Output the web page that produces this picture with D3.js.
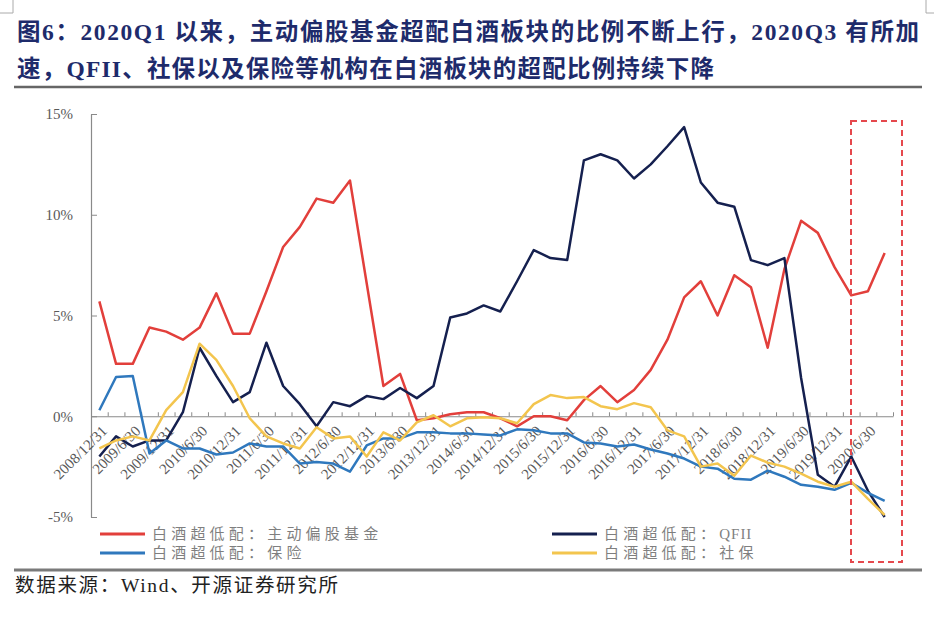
<!DOCTYPE html>
<html>
<head>
<meta charset="utf-8">
<script src="https://cdn.jsdelivr.net/npm/d3@7"></script>
<style>
body{margin:0;background:#fff;}
svg{display:block;}
</style>
</head>
<body>
<script>
// quarter-end dates
const dates = [
  "2008/12/31",
  "2009/3/31","2009/6/30","2009/9/30","2009/12/31",
  "2010/3/31","2010/6/30","2010/9/30","2010/12/31",
  "2011/3/31","2011/6/30","2011/9/30","2011/12/31",
  "2012/3/31","2012/6/30","2012/9/30","2012/12/31",
  "2013/3/31","2013/6/30","2013/9/30","2013/12/31",
  "2014/3/31","2014/6/30","2014/9/30","2014/12/31",
  "2015/3/31","2015/6/30","2015/9/30","2015/12/31",
  "2016/3/31","2016/6/30","2016/9/30","2016/12/31",
  "2017/3/31","2017/6/30","2017/9/30","2017/12/31",
  "2018/3/31","2018/6/30","2018/9/30","2018/12/31",
  "2019/3/31","2019/6/30","2019/9/30","2019/12/31",
  "2020/3/31","2020/6/30","2020/9/30"
];
// 白酒超低配 (%)
const fundVals = [5.7,2.6,2.6,4.4,4.2,3.8,4.4,6.1,4.1,4.1,6.2,8.4,9.4,10.8,10.6,11.7,6.6,1.5,2.1,-0.2,-0.1,0.1,0.2,0.2,-0.1,-0.5,0.0,0.0,-0.2,0.8,1.5,0.7,1.3,2.3,3.8,5.9,6.7,5.0,7.0,6.4,3.4,7.3,9.7,9.1,7.4,6.0,6.2,8.1];
const qfiiVals = [-2.0,-1.0,-1.5,-1.2,-1.2,0.2,3.4,2.0,0.7,1.2,3.65,1.5,0.6,-0.5,0.7,0.5,1.0,0.85,1.4,0.9,1.5,4.9,5.1,5.5,5.2,6.7,8.25,7.85,7.75,12.7,13.0,12.7,11.8,12.5,13.4,14.35,11.6,10.6,10.4,7.75,7.5,7.85,1.9,-2.9,-3.5,-2.0,-3.7,-5.0];
const insVals = [0.3,1.95,2.0,-1.85,-1.2,-1.6,-1.6,-1.9,-1.8,-1.35,-1.5,-1.5,-2.35,-2.27,-2.35,-2.75,-1.45,-1.1,-1.1,-0.8,-0.8,-0.85,-0.85,-0.9,-0.95,-0.65,-0.7,-0.85,-0.85,-1.3,-1.35,-1.5,-1.4,-1.65,-1.85,-2.1,-2.5,-2.6,-3.1,-3.15,-2.7,-3.0,-3.4,-3.5,-3.65,-3.3,-3.8,-4.2];
const ssfVals = [-1.6,-1.2,-1.0,-1.2,0.3,1.2,3.6,2.8,1.5,-0.1,-1.0,-1.35,-1.6,-0.55,-1.1,-1.0,-2.0,-0.8,-1.2,-0.3,0.05,-0.5,-0.1,-0.05,-0.1,-0.35,0.6,1.05,0.9,0.95,0.5,0.35,0.65,0.45,-0.7,-1.0,-2.5,-2.35,-2.95,-1.95,-2.3,-2.5,-2.85,-3.25,-3.5,-3.25,-4.1,-4.9];
const seriesNames = ["白酒超低配：主动偏股基金","白酒超低配：QFII","白酒超低配：保险","白酒超低配：社保"];
const seriesColors = ["#E23F3B","#15204F","#2F78BD","#F3C54E"];
const yTicks = [-5,0,5,10,15];

var width = 934, height = 626;
var svg = d3.select("body").append("svg")
    .attr("width", width).attr("height", height)
    .style("font-family", "'Liberation Serif','Noto Sans CJK SC',serif");

// corner marks
svg.append("path").attr("d","M13,0V13H0 M926,0V13H934")
    .attr("fill","none").attr("stroke","#aaa").attr("stroke-width",1);

// title
var titleLines = [
  {t:"图6：2020Q1 以来，主动偏股基金超配白酒板块的比例不断上行，2020Q3 有所加", y:40, w:902},
  {t:"速，QFII、社保以及保险等机构在白酒板块的超配比例持续下降", y:77, w:697}
];
svg.selectAll(".title").data(titleLines).enter().append("text")
    .attr("class","title")
    .attr("x",17).attr("y",d=>d.y)
    .attr("textLength",d=>d.w).attr("lengthAdjust","spacing")
    .attr("fill","#1E2B6B").attr("font-size",23.5).attr("font-weight","bold")
    .text(d=>d.t);
svg.append("line").attr("x1",14).attr("x2",922).attr("y1",87).attr("y2",87)
    .attr("stroke","#666").attr("stroke-width",2.5);

// scales
var x = d3.scaleBand().domain(dates).range([91,893]).padding(0);
var y = d3.scaleLinear().domain([-5,15]).range([517,114]);
var bw = x.bandwidth();
var cx = d => x(d) + bw/2;

// y axis
var yAxis = svg.append("g").attr("transform","translate(91,0)")
    .call(d3.axisLeft(y).tickValues(yTicks).tickSize(-6).tickSizeOuter(0).tickPadding(18)
        .tickFormat(d => d + "%"));
yAxis.select(".domain").attr("stroke","#8a8a8a").attr("stroke-width",1.2);
yAxis.selectAll(".tick line").attr("stroke","#8a8a8a");
yAxis.selectAll("text").attr("fill","#595959").attr("font-size",15)
    .style("font-family","'Liberation Serif',serif");

// x axis along zero
var xb = d3.scaleLinear().domain([0,dates.length]).range([91,893]);
var xAxis = svg.append("g").attr("transform","translate(0," + y(0) + ")")
    .call(d3.axisBottom(xb).tickValues(d3.range(1,dates.length+1)).tickSize(-4).tickSizeOuter(0).tickFormat(""));
xAxis.select(".domain").attr("stroke","#8a8a8a").attr("stroke-width",1.2);
xAxis.selectAll(".tick line").attr("stroke","#8a8a8a");

svg.append("g").selectAll("text")
    .data(dates.filter((d,i) => i % 2 == 0))
    .enter().append("text")
    .attr("transform", d => "translate(" + (cx(d)+5) + "," + (y(0)+12) + ") rotate(-45)")
    .attr("text-anchor","end").attr("dy","0.35em")
    .attr("fill","#595959").attr("font-size",15)
    .style("font-family","'Liberation Serif',serif")
    .text(d => d);

// lines
var allSeries = [fundVals, qfiiVals, insVals, ssfVals];
var line = d3.line().x((v,i) => cx(dates[i])).y(v => y(v));
svg.append("g").selectAll("path").data(allSeries).enter().append("path")
    .attr("d", d => line(d))
    .attr("fill","none")
    .attr("stroke",(d,i) => seriesColors[i])
    .attr("stroke-width",2.5)
    .attr("stroke-linejoin","round");

// highlight box
svg.append("rect").attr("x",851).attr("y",121).attr("width",51).attr("height",441)
    .attr("fill","none").attr("stroke","#E5484D").attr("stroke-width",2)
    .attr("stroke-dasharray","6,4");

// legend
var legPos = [{x:100,y:534},{x:552,y:534},{x:100,y:553},{x:552,y:553}];
var leg = svg.append("g").selectAll("g").data(seriesNames).enter().append("g")
    .attr("transform",(d,i) => "translate(" + legPos[i].x + "," + legPos[i].y + ")");
leg.append("line").attr("x1",0).attr("x2",45).attr("y1",0).attr("y2",0)
    .attr("stroke",(d,i) => seriesColors[i]).attr("stroke-width",3);
var legText = leg.append("text").attr("x",52).attr("y",5)
    .attr("fill","#7f7f7f").attr("font-size",15);
legText.append("tspan").attr("letter-spacing",4.2).text(d => d.split("：")[0] + "：");
legText.append("tspan").attr("letter-spacing",d => /[A-Z]/.test(d) ? 1 : 4.2).text(d => d.split("：")[1]);

// bottom rule and source
svg.append("line").attr("x1",14).attr("x2",922).attr("y1",570).attr("y2",570)
    .attr("stroke","#7a7a7a").attr("stroke-width",3);
svg.append("text").attr("x",15).attr("y",592)
    .attr("textLength",323).attr("lengthAdjust","spacing")
    .attr("fill","#222").attr("font-size",19.5)
    .text("数据来源：Wind、开源证券研究所");
</script>
</body>
</html>
